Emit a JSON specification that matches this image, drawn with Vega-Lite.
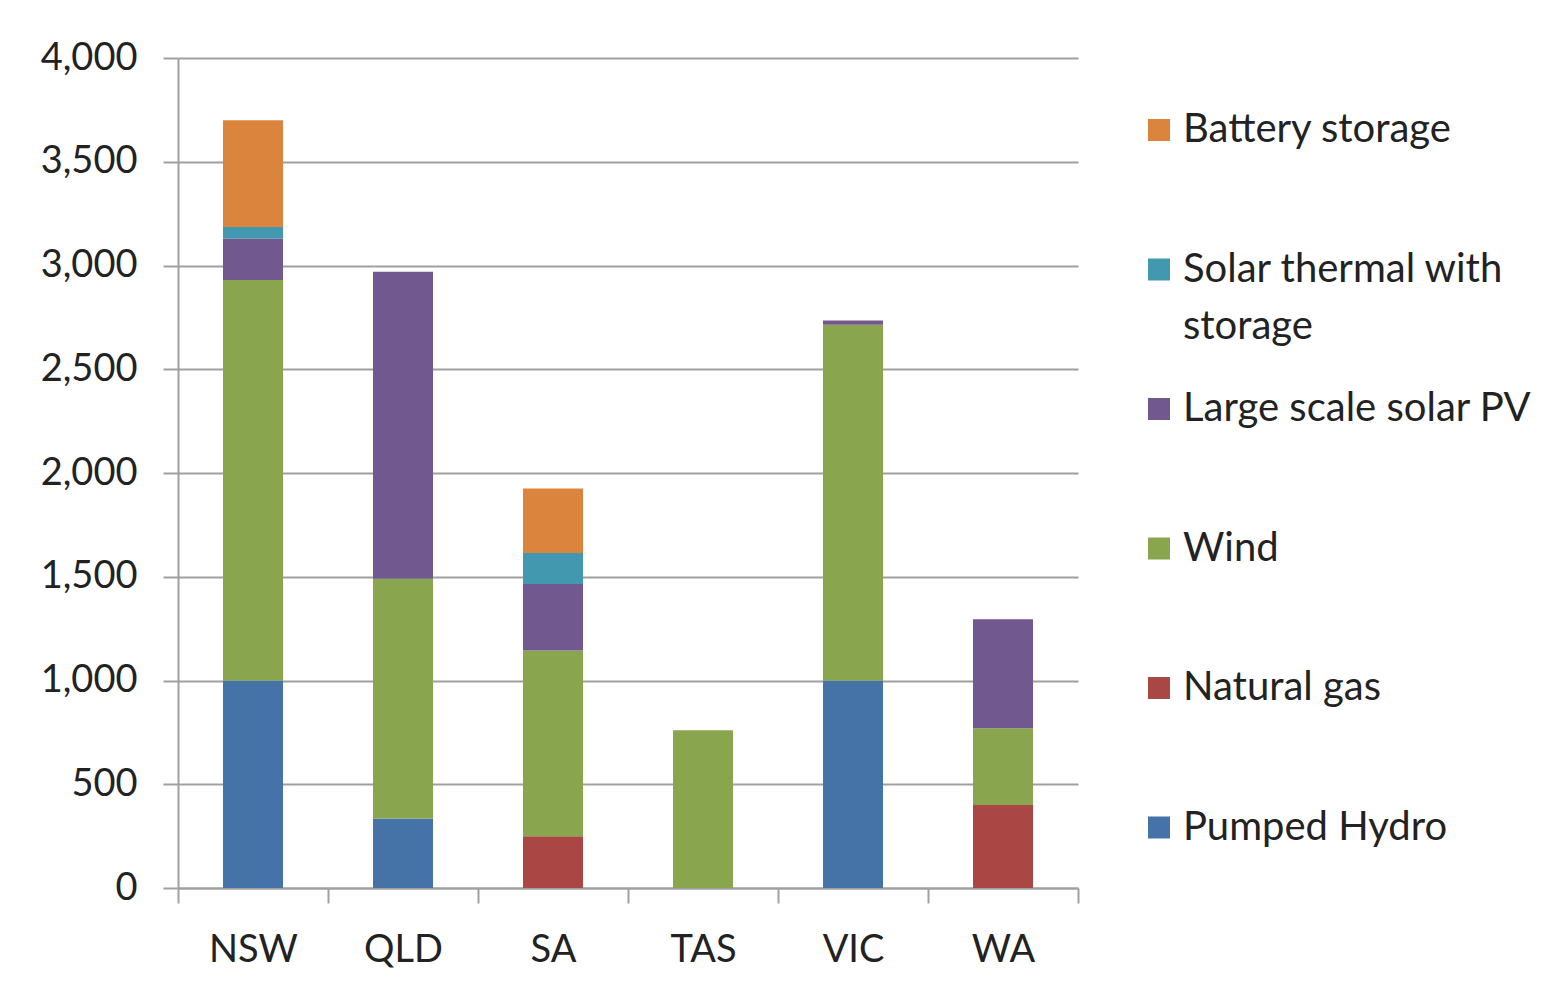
{
  "$schema": "https://vega.github.io/schema/vega-lite/v6.json",
  "width": 900,
  "height": 830,
  "autosize": {"type": "none"},
  "padding": {"left": 178, "top": 58, "right": 481, "bottom": 113},
  "background": "white",
  "data": {
    "values": [
      {"region": "NSW", "source": "Pumped Hydro", "k": 1, "mw": 1000},
      {"region": "NSW", "source": "Wind", "k": 3, "mw": 1930},
      {"region": "NSW", "source": "Large scale solar PV", "k": 4, "mw": 200},
      {"region": "NSW", "source": "Solar thermal with storage", "k": 5, "mw": 55},
      {"region": "NSW", "source": "Battery storage", "k": 6, "mw": 515},
      {"region": "QLD", "source": "Pumped Hydro", "k": 1, "mw": 335},
      {"region": "QLD", "source": "Wind", "k": 3, "mw": 1155},
      {"region": "QLD", "source": "Large scale solar PV", "k": 4, "mw": 1480},
      {"region": "SA", "source": "Natural gas", "k": 2, "mw": 250},
      {"region": "SA", "source": "Wind", "k": 3, "mw": 895},
      {"region": "SA", "source": "Large scale solar PV", "k": 4, "mw": 320},
      {"region": "SA", "source": "Solar thermal with storage", "k": 5, "mw": 150},
      {"region": "SA", "source": "Battery storage", "k": 6, "mw": 310},
      {"region": "TAS", "source": "Wind", "k": 3, "mw": 760},
      {"region": "VIC", "source": "Pumped Hydro", "k": 1, "mw": 1000},
      {"region": "VIC", "source": "Wind", "k": 3, "mw": 1715},
      {"region": "VIC", "source": "Large scale solar PV", "k": 4, "mw": 20},
      {"region": "WA", "source": "Natural gas", "k": 2, "mw": 400},
      {"region": "WA", "source": "Wind", "k": 3, "mw": 370},
      {"region": "WA", "source": "Large scale solar PV", "k": 4, "mw": 525}
    ]
  },
  "mark": {"type": "bar", "width": {"band": 0.4}},
  "encoding": {
    "x": {
      "field": "region",
      "type": "nominal",
      "sort": ["NSW", "QLD", "SA", "TAS", "VIC", "WA"],
      "scale": {"paddingInner": 0, "paddingOuter": 0},
      "axis": {
        "title": null,
        "labelAngle": 0,
        "tickBand": "extent",
        "tickSize": 15,
        "tickColor": "#a0a0a0",
        "tickWidth": 2,
        "domainColor": "#a0a0a0",
        "domainWidth": 2,
        "labelPadding": 28,
        "labelFont": "Lato",
        "labelFontSize": 38,
        "labelColor": "#222222"
      }
    },
    "y": {
      "field": "mw",
      "type": "quantitative",
      "aggregate": "sum",
      "stack": "zero",
      "scale": {"domain": [0, 4000], "nice": false},
      "axis": {
        "title": null,
        "values": [0, 500, 1000, 1500, 2000, 2500, 3000, 3500, 4000],
        "format": ",.0f",
        "tickSize": 15,
        "tickColor": "#a0a0a0",
        "tickWidth": 2,
        "domainColor": "#a0a0a0",
        "domainWidth": 2,
        "gridColor": "#a0a0a0",
        "gridWidth": 2,
        "labelPadding": 26,
        "labelFont": "Lato",
        "labelFontSize": 38,
        "labelColor": "#222222"
      }
    },
    "color": {
      "field": "source",
      "type": "nominal",
      "scale": {
        "domain": ["Battery storage", "Solar thermal with storage", "Large scale solar PV", "Wind", "Natural gas", "Pumped Hydro"],
        "range": ["#DB843D", "#4198AF", "#71588F", "#89A54E", "#AA4643", "#4572A7"]
      },
      "legend": {
        "title": null,
        "orient": "none",
        "legendX": 961,
        "legendY": 52,
        "padding": 0,
        "gridAlign": "all",
        "symbolType": "square",
        "symbolSize": 484,
        "symbolStrokeWidth": 0,
        "symbolOpacity": 1,
        "labelFont": "Lato",
        "labelFontSize": 40,
        "labelColor": "#222222",
        "labelOffset": 4,
        "labelLimit": 420,
        "labelExpr": "datum.label == 'Solar thermal with storage' ? ['Solar thermal with', 'storage'] : datum.label",
        "rowPadding": 42.5,
        "encode": {"labels": {"update": {"lineHeight": {"value": 57}}}}
      }
    },
    "order": {"field": "k", "type": "quantitative"}
  },
  "config": {"view": {"stroke": null}}
}
